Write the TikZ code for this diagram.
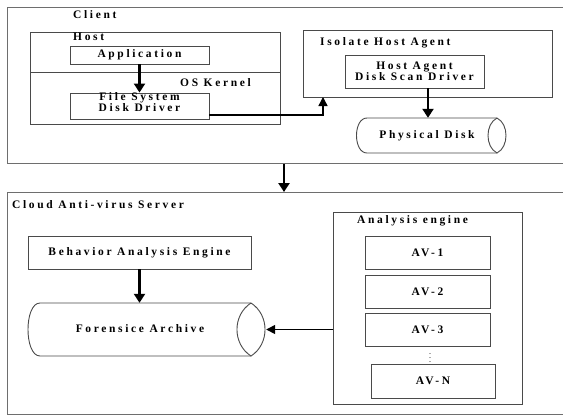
\documentclass[tikz,border=0pt]{standalone}
\usepackage{fontspec}
\setmainfont{Liberation Serif}
\usetikzlibrary{arrows.meta}
\definecolor{boxgray}{HTML}{4A4A4A}
\definecolor{framegray}{HTML}{6E6E6E}
\begin{document}
\begin{tikzpicture}[x=1pt,y=-1pt,
  lbl/.style={font=\fontsize{11.5}{11.5}\selectfont\bfseries\addfontfeature{LetterSpace=23}, inner sep=0pt, align=center},
  box/.style={draw=boxgray, line width=0.9pt, rectangle, inner sep=0pt, lbl},
  frame/.style={draw=framegray, line width=0.9pt, rectangle, inner sep=0pt},
  bigarrow/.style={line width=2.4pt, -{Triangle[width=11pt,length=9pt]}},
  thinarrow/.style={line width=1.4pt, -{Triangle[width=9pt,length=9pt]}},
  shapeline/.style={draw=boxgray, line width=0.9pt}]
\useasboundingbox (0,0) rectangle (563,416);
\clip (0,0) rectangle (563,416);
\fill[white] (0,0) rectangle (563,416);
% ---------- Client ----------
\node[frame, anchor=north west, minimum width=570pt, minimum height=156pt] (client) at (7,7) {};
\node[lbl, anchor=west] (clientlbl) at (73,15) {Client};
\node[box, anchor=north west, minimum width=250pt, minimum height=92pt] (host) at (30,32) {};
\draw[shapeline] (30,72) -- (280,72);
\node[lbl, anchor=west] (hostlbl) at (73,37) {Host};
\node[lbl, anchor=west] (oslbl) at (180,83) {OS Kernel};
\node[box, minimum width=139pt, minimum height=18pt] (app) at (139.5,55) {Application};
\node[box, minimum width=139pt, minimum height=26pt] (fs) at (139.5,106) {};
\node[lbl, font=\fontsize{11.5}{10.5}\selectfont\bfseries\addfontfeature{LetterSpace=23}] (fslbl) at (139.5,102) {File System\\Disk Driver};
\draw[bigarrow] (app.south) -- (fs.north);
\node[box, anchor=north west, minimum width=249pt, minimum height=67pt] (iso) at (303,30) {};
\node[lbl, anchor=west] (isolbl) at (320,43) {Isolate Host Agent};
\node[box, minimum width=139pt, minimum height=33pt] (hadsd) at (414.5,71.5) {Host Agent\\Disk Scan Driver};
\coordinate (elb) at (323,97);
\draw[thinarrow] ([yshift=-9pt]fs.east) -| (elb);
% physical disk
\node[minimum width=150pt, minimum height=35pt, inner sep=0pt] (disk) at (432,135.5) {};
\draw[shapeline] (497,118) -- (367,118) .. controls (353,118) and (353,153) .. (367,153) -- (497,153);
\draw[shapeline] (497,118) .. controls (485,124) and (485,147) .. (497,153) .. controls (509,147) and (509,124) .. (497,118);
\node[lbl] (disklbl) at (427,136) {Physical Disk};
\draw[bigarrow] ([xshift=13.5pt]hadsd.south) -- ([xshift=13.5pt]hadsd.south |- disk.north);
% ---------- Server ----------
\node[frame, anchor=north west, minimum width=570pt, minimum height=222pt] (server) at (7,192) {};
\coordinate (ax) at (284,0);
\draw[bigarrow] (client.south -| ax) -- (server.north -| ax);
\node[lbl, anchor=west] (serverlbl) at (12,205) {Cloud Anti-virus Server};
\node[box, minimum width=223pt, minimum height=33pt] (bae) at (139.5,252.5) {Behavior Analysis Engine};
\node[minimum width=238pt, minimum height=53pt, inner sep=0pt] (fa) at (147,329.5) {};
\draw[shapeline] (251,303) -- (40,303) .. controls (24,303) and (24,356) .. (40,356) -- (251,356);
\draw[shapeline] (251,303) .. controls (232.3,315) and (232.3,344) .. (251,356) .. controls (269.7,344) and (269.7,315) .. (251,303);
\node[lbl] (falbl) at (140,329) {Forensice Archive};
\draw[bigarrow] (bae.south) -- (bae.south |- fa.north);
\node[box, anchor=north west, minimum width=189pt, minimum height=192pt] (ae) at (333,212) {};
\node[lbl, anchor=west] (aelbl) at (357,221) {Analysis engine};
\node[box, minimum width=125pt, minimum height=33pt] (av1) at (427.5,252.5) {AV-1};
\node[box, minimum width=125pt, minimum height=33pt] (av2) at (427.5,291.5) {AV-2};
\node[box, minimum width=125pt, minimum height=33pt] (av3) at (427.5,329.5) {AV-3};
\node[lbl] (dots) at (430,355) {\fontsize{6}{6}\selectfont$\vdots$};
\node[box, minimum width=124pt, minimum height=34pt] (avn) at (433,381) {AV-N};
\draw[thinarrow] (fa.east -| ae.west) -- (fa.east);
\end{tikzpicture}
\end{document}
